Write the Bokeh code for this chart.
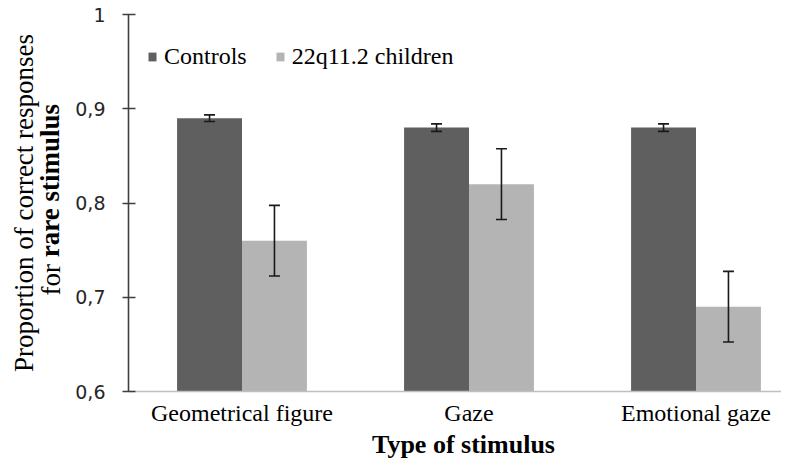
import numpy as np
from bokeh.plotting import figure
from bokeh.models import (ColumnDataSource, Range1d, FixedTicker, Whisker, TeeHead,
                          Legend, LegendItem, Title)
from bokeh.embed import file_html
from bokeh.resources import INLINE

# ---- data ----
categories = ["Geometrical figure", "Gaze", "Emotional gaze"]
series = ["Controls", "22q11.2 children"]
controls = [0.89, 0.88, 0.88]
controls_err = [0.0035, 0.004, 0.004]
children = [0.76, 0.82, 0.69]
children_err = [0.0375, 0.0375, 0.0375]
y_ticks = [0.6, 0.7, 0.8, 0.9, 1.0]
y_tick_labels = ["0,6", "0,7", "0,8", "0,9", "1"]
x_title = "Type of stimulus"
y_title_line1 = "Proportion of correct responses"
y_title_line2a = "for "
y_title_line2b = "rare stimulus"

DARK = "#5f5f5f"
LIGHT = "#b4b4b4"
SERIF = "Liberation Serif"

W, H = 781, 458
LEFT, TOP, BOTTOM = 128, 14, 391          # frame edges in figure pixels
CAT_PX = 227                              # pixels per category
frame_w = W - LEFT
ymin, ymax = y_ticks[0], y_ticks[-1]

pos = np.arange(len(categories)) + 0.5
bw = 0.286

c = np.array(controls); ce = np.array(controls_err)
k = np.array(children); ke = np.array(children_err)
src_c = ColumnDataSource(dict(x=pos - bw / 2, top=c, upper=c + ce, lower=c - ce))
src_k = ColumnDataSource(dict(x=pos + bw / 2, top=k, upper=k + ke, lower=k - ke))

p = figure(width=W, height=H, output_backend="svg", toolbar_location=None,
           x_range=Range1d(0, frame_w / CAT_PX), y_range=Range1d(ymin, ymax),
           min_border_left=LEFT, min_border_right=0, min_border_top=TOP,
           min_border_bottom=H - BOTTOM)
p.outline_line_color = None
p.grid.visible = False
p.background_fill_color = "white"

r1 = p.vbar(x="x", top="top", bottom=ymin, width=bw, source=src_c,
            fill_color=DARK, line_color=None)
r2 = p.vbar(x="x", top="top", bottom=ymin, width=bw, source=src_k,
            fill_color=LIGHT, line_color=None)

for src in (src_c, src_k):
    w = Whisker(base="x", upper="upper", lower="lower", source=src, dimension="height",
                line_color="#1a1a1a", line_width=1.6, level="overlay",
                upper_head=TeeHead(size=11, line_color="#1a1a1a", line_width=1.6),
                lower_head=TeeHead(size=11, line_color="#1a1a1a", line_width=1.6))
    p.add_layout(w)

# x axis
p.xaxis.ticker = FixedTicker(ticks=list(pos))
p.xaxis.major_label_overrides = {float(v): lab for v, lab in zip(pos, categories)}
p.xaxis.axis_line_color = "#bfbfbf"
p.xaxis.axis_line_width = 1.6
p.xaxis.major_tick_line_color = None
p.xaxis.minor_tick_line_color = None
p.xaxis.major_tick_out = 0
p.xaxis.major_tick_in = 0
p.xaxis.major_label_standoff = 8
p.xaxis.major_label_text_font = SERIF
p.xaxis.major_label_text_font_size = "24px"
p.xaxis.major_label_text_color = "black"

# y axis
p.yaxis.ticker = FixedTicker(ticks=y_ticks)
p.yaxis.major_label_overrides = {float(v): lab for v, lab in zip(y_ticks, y_tick_labels)}
p.yaxis.axis_line_color = "#3f3f3f"
p.yaxis.axis_line_width = 1.6
p.yaxis.major_tick_line_color = "#3f3f3f"
p.yaxis.major_tick_line_width = 1.6
p.yaxis.major_tick_out = 6
p.yaxis.major_tick_in = 7
p.yaxis.minor_tick_line_color = None
p.yaxis.major_label_standoff = 17
p.yaxis.major_label_text_font = "DejaVu Sans"
p.yaxis.major_label_text_font_size = "19px"
p.yaxis.major_label_text_color = "#262626"
# blank spacer label: leaves a gap between tick labels and the y title
p.yaxis.axis_label = " "
p.yaxis.axis_label_text_font_size = "1px"
p.yaxis.axis_label_standoff = 10

# x title (below)
p.add_layout(Title(text=x_title, align="left", offset=243.5, standoff=-2,
                   text_font=SERIF, text_font_size="26px", text_font_style="bold",
                   text_color="black"), "below")

# y title: two lines, second line partly bold ("for " normal + "rare stimulus" bold)
YS = 27
t2b = Title(text=y_title_line2b, align="left", offset=BOTTOM - 256.8, standoff=-12,
            text_font=SERIF, text_font_size=f"{YS}px", text_font_style="bold",
            text_color="black")
p.add_layout(t2b, "left")
t2a = Title(text=y_title_line2a, align="left", offset=BOTTOM - 295, standoff=-55,
            text_font=SERIF, text_font_size=f"{YS}px", text_font_style="normal",
            text_color="black")
p.add_layout(t2a, "left")
t1 = Title(text=y_title_line1, align="center", standoff=0,
           text_font=SERIF, text_font_size=f"{YS}px", text_font_style="normal",
           text_color="black")
p.add_layout(t1, "left")

legend = Legend(items=[LegendItem(label=series[0], renderers=[r1]),
                       LegendItem(label=series[1], renderers=[r2])],
                orientation="horizontal", location=(19, 321),
                glyph_width=10, glyph_height=11, label_standoff=7, spacing=28,
                padding=0, margin=0, border_line_alpha=0, background_fill_alpha=0)
legend.label_text_font = SERIF
legend.label_text_font_size = "24px"
legend.label_text_color = "black"
p.add_layout(legend)

open("out.html", "w").write(file_html(p, INLINE))
